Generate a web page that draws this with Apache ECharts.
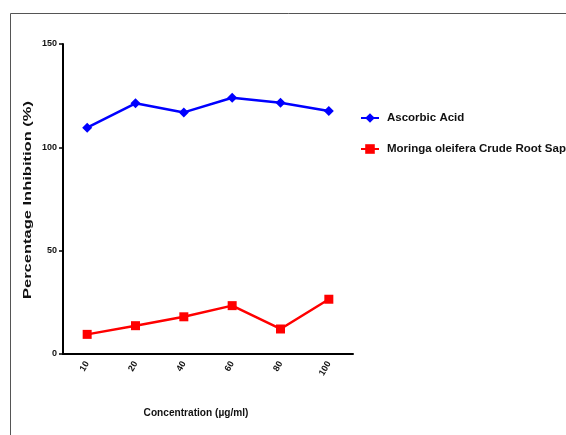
<!DOCTYPE html>
<html>
<head>
<meta charset="utf-8">
<script src="https://cdn.jsdelivr.net/npm/echarts@6/dist/echarts.min.js"></script>
<style>
html,body{margin:0;padding:0;background:#fff;}
#chart{width:566px;height:435px;}
</style>
</head>
<body>
<div id="chart"></div>
<script>
var categories = ['10', '20', '40', '60', '80', '100'];
var ascorbicAcid = [109.5, 121.3, 116.9, 124.0, 121.6, 117.6];
var rootSap = [9.5, 13.7, 18.0, 23.4, 12.1, 26.5];
var seriesNames = ['Ascorbic Acid', 'Moringa oleifera Crude Root Sap'];
var yTicks = [0, 50, 100, 150];
var xTitle = 'Concentration (µg/ml)';
var yTitle = 'Percentage Inhibition (%)';

var FONT = '"Liberation Sans", Arial, sans-serif';
var chart = echarts.init(document.getElementById('chart'), null, {renderer: 'canvas'});
chart.setOption({
  animation: false,
  backgroundColor: '#ffffff',
  graphic: [{
    type: 'polyline',
    shape: {points: [[10.5, 440], [10.5, 13.5], [570, 13.5]]},
    style: {stroke: '#555', lineWidth: 1, fill: null},
    silent: true
  }, {
    type: 'text',
    x: 28, y: 200,
    rotation: Math.PI / 2,
    scaleX: 1.5,
    style: {text: yTitle, font: 'bold 11px ' + FONT, fill: '#111', align: 'center', verticalAlign: 'middle'},
    silent: true
  }, {
    type: 'text',
    x: 196, y: 413,
    scaleX: 0.92,
    style: {text: xTitle, font: 'bold 11px ' + FONT, fill: '#111', align: 'center', verticalAlign: 'middle'},
    silent: true
  }],
  grid: {left: 63, right: 213, top: 44, bottom: 81, containLabel: false},
  legend: {
    orient: 'vertical',
    left: 355,
    top: 107,
    itemGap: 19,
    itemWidth: 18,
    itemHeight: 12,
    textStyle: {fontFamily: FONT, fontSize: 11.5, fontWeight: 'bold', color: '#111', padding: [0, 0, 0, 3]},
    data: seriesNames
  },
  xAxis: {
    type: 'category',
    data: categories,
    boundaryGap: true,
    axisLine: {lineStyle: {color: '#000', width: 2}},
    axisTick: {alignWithLabel: true, length: 4, lineStyle: {color: '#000', width: 1.5}},
    axisLabel: {rotate: 60, fontFamily: FONT, fontSize: 9, fontWeight: 'bold', color: '#111', margin: 8},
    splitLine: {show: false}
  },
  yAxis: {
    type: 'value',
    min: 0,
    max: 150,
    interval: 50,
    axisLine: {show: true, lineStyle: {color: '#000', width: 2}},
    axisTick: {show: true, length: 4, lineStyle: {color: '#000', width: 1.5}},
    axisLabel: {
      fontFamily: FONT, fontSize: 9, fontWeight: 'bold', color: '#111', margin: 6,
      formatter: function (v) { return yTicks.indexOf(v) >= 0 ? String(v) : ''; }
    },
    splitLine: {show: false}
  },
  series: [
    {
      name: seriesNames[0],
      type: 'line',
      data: ascorbicAcid,
      symbol: 'diamond',
      symbolSize: 10,
      color: '#0000ff',
      lineStyle: {color: '#0000ff', width: 2.5},
      itemStyle: {color: '#0000ff'}
    },
    {
      name: seriesNames[1],
      type: 'line',
      data: rootSap,
      symbol: 'rect',
      symbolSize: 9,
      color: '#ff0000',
      lineStyle: {color: '#ff0000', width: 2.5},
      itemStyle: {color: '#ff0000'}
    }
  ]
});
</script>
</body>
</html>
